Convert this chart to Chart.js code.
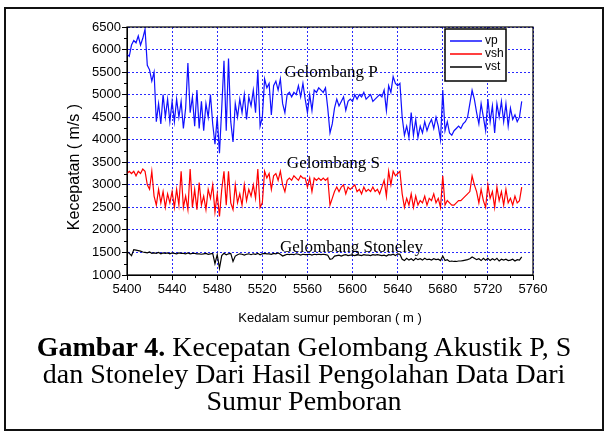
<!DOCTYPE html>
<html>
<head>
<meta charset="utf-8">
<script src="https://cdn.jsdelivr.net/npm/chart.js@4.4.0/dist/chart.umd.min.js"></script>
<style>
  body { margin: 0; background: #fff; }
  #frame { position: absolute; left: 4px; top: 7px; width: 596px; height: 420px; border: 2px solid #111; }
  #wrap { position: absolute; left: 0; top: 0; width: 608px; height: 434px; }
  #caption { position: absolute; left: 0; top: 333px; width: 608px; text-align: center;
    font-family: "Liberation Serif", "Times New Roman", serif; font-size: 28px; line-height: 27px; color: #000; }
</style>
</head>
<body>
<div id="frame"></div>
<div id="wrap"><canvas id="myChart" width="608" height="434"></canvas></div>
<div id="caption"><b>Gambar 4.</b> Kecepatan Gelombang Akustik P, S<br>dan Stoneley Dari Hasil Pengolahan Data Dari<br>Sumur Pemboran</div>
<script>
// depth (m), every 2 m from 5400 to 5750
var depthStart = 5400, depthStep = 2;

var vp = [
  5900, 5850, 6100, 6200, 6150, 6300, 6100, 6250, 6450, 5650,
  5550, 5300, 5500, 4400, 4800, 4350, 5000, 4500, 4900, 4400,
  4850, 4400, 4900, 4500, 4850, 4250, 4700, 5700, 4600, 4950,
  4300, 5100, 4250, 4850, 4200, 4800, 4500, 5000, 4350, 3900,
  4500, 3700, 4700, 5750, 4200, 5800, 4400, 3950, 4800, 4500,
  4900, 4600, 5000, 4450, 4950, 4750, 5100, 4600, 5550, 4300,
  4500, 5350, 5150, 5250, 4550, 5200, 5300, 5100, 5350, 4800,
  4600, 5000, 5050, 4950, 5050, 5000, 5200, 4950, 5250, 4900,
  4600, 5000, 4650, 5100, 5050, 5150, 5100, 5050, 5150, 4700,
  4150, 4350, 4700, 4900, 4750, 4850, 4950, 4650, 4850, 4900,
  4850, 5000, 4900, 5000, 4950, 5050, 4900, 4950, 5000, 4850,
  4900, 4950, 5000, 4950, 5100, 4650, 5200, 5050, 5400, 5250,
  5200, 5250, 4500, 4100, 4300, 4050, 4600, 4100, 4450, 4050,
  4300, 4150, 4400, 4200, 4350, 4450, 4250, 4500, 4300, 4000,
  5100, 4200, 4400, 4150, 4100, 4200, 4250, 4300, 4250, 4350,
  4400, 4500, 4800, 5100, 4900, 4600, 4350, 4800, 4500, 4200,
  4900, 4400, 4750, 4150, 4800, 4500, 4850, 4400, 4800, 4300,
  4700, 4450, 4550, 4400, 4500, 4850
];

var vsh = [
  3250, 3300, 3250, 3300, 3200, 3300, 3250, 3350, 3300, 3000,
  2900, 3300, 2750, 2550, 2900, 2600, 2850, 2500, 2800, 2600,
  2850, 2500, 2900, 2550, 3300, 2500, 2750, 2450, 3350, 2500,
  2900, 2450, 3050, 2550, 2750, 2450, 2900, 2700, 3000, 2400,
  2800, 2300, 2900, 3300, 2550, 3300, 2600, 2450, 3000, 2600,
  2800, 2550, 3000, 2650, 2900, 2750, 3000, 2700, 3350, 2500,
  2600, 3300, 3150, 3250, 2900, 3200, 3250, 3100, 3300, 3000,
  2850, 3100, 3150, 3100, 3200, 3150, 3100, 3200, 3150, 3150,
  2950, 3150, 2850, 3150, 3100, 3150, 3100, 3150, 3100, 3150,
  2550, 2700, 2850, 2950, 2850, 2950, 3000, 2800, 2950, 2900,
  2950, 3000, 2850, 2900, 2800, 2950, 2850, 2900, 2850, 2950,
  2850, 2900, 2800, 2950, 3100, 2750, 3300, 3000, 3300, 3200,
  3250, 3300, 2800, 2500, 2700, 2550, 2800, 2500, 2750, 2550,
  2650, 2600, 2750, 2550, 2700, 2650, 2800, 2600, 2700, 2500,
  3200, 2550, 2650, 2600, 2550, 2550, 2600, 2650, 2650, 2700,
  2750, 2800, 2850, 3200, 3000, 2850, 2600, 2900, 2650, 2500,
  3000, 2700, 2850, 2500, 2950, 2650, 2850, 2550, 2900, 2600,
  2700, 2550, 2750, 2600, 2650, 2950
];

var vst = [
  1520, 1480, 1430, 1560, 1550, 1540, 1530, 1510, 1500, 1490,
  1510, 1480, 1490, 1480, 1500, 1470, 1490, 1480, 1490, 1470,
  1490, 1480, 1470, 1490, 1480, 1480, 1470, 1490, 1470, 1480,
  1480, 1470, 1470, 1460, 1470, 1480, 1460, 1470, 1480, 1250,
  1450, 1150, 1430, 1480, 1450, 1470, 1480, 1300, 1420, 1450,
  1470, 1460, 1440, 1460, 1470, 1450, 1470, 1460, 1480, 1450,
  1470, 1480, 1470, 1470, 1460, 1480, 1470, 1490, 1460, 1420,
  1440, 1460, 1450, 1460, 1450, 1470, 1460, 1440, 1460, 1450,
  1450, 1460, 1440, 1460, 1450, 1460, 1450, 1460, 1450, 1440,
  1350, 1360, 1420, 1430, 1440, 1420, 1440, 1450, 1430, 1440,
  1440, 1430, 1450, 1440, 1430, 1450, 1440, 1440, 1430, 1450,
  1440, 1450, 1440, 1430, 1440, 1420, 1450, 1440, 1460, 1430,
  1470, 1460, 1350, 1320, 1370, 1330, 1360, 1320, 1370, 1340,
  1360, 1330, 1370, 1340, 1350, 1330, 1360, 1340, 1350, 1320,
  1420, 1320, 1340, 1300, 1310, 1300, 1300, 1310, 1310, 1320,
  1330, 1340, 1360, 1400, 1370, 1340, 1360, 1320, 1370, 1330,
  1370, 1320, 1360, 1330, 1370, 1310, 1350, 1330, 1350, 1320,
  1330, 1350, 1310, 1340, 1330, 1400
];

var seriesNames = ['vp', 'vsh', 'vst'];
var seriesColors = ['#1010ff', '#ff0000', '#000000'];

// text labels in the plot: [depth, velocity, text]
var notes = [
  [5581, 5480, 'Gelombang P'],
  [5583, 3480, 'Gelombang S'],
  [5599, 1620, 'Gelombang Stoneley']
];

var yTitle = 'Kecepatan ( m/s )';

function toPoints(arr) {
  return arr.map(function (v, i) { return { x: depthStart + i * depthStep, y: v }; });
}

var sans = "'Liberation Sans', Arial, sans-serif";
var serif = "'Liberation Serif', 'Times New Roman', serif";

var extras = {
  id: 'extras',
  afterDraw: function (chart) {
    var c = chart.ctx, a = chart.chartArea;
    var xs = chart.scales.x, ys = chart.scales.y;
    c.save();
    // minor ticks
    c.strokeStyle = '#000';
    c.lineWidth = 1;
    c.beginPath();
    for (var d = 5420; d < 5760; d += 40) {
      var px = Math.round(xs.getPixelForValue(d)) + 0.5;
      c.moveTo(px, a.bottom); c.lineTo(px, a.bottom + 3);
    }
    for (var v = 1250; v < 6500; v += 500) {
      var py = Math.round(ys.getPixelForValue(v)) + 0.5;
      c.moveTo(a.left, py); c.lineTo(a.left - 3, py);
    }
    c.stroke();
    // frame
    c.lineWidth = 1.2;
    c.strokeRect(a.left, a.top, a.right - a.left, a.bottom - a.top);
    // y title, sits a bit below the axis centre like the original
    c.fillStyle = '#000';
    c.font = '16px ' + sans;
    c.textAlign = 'center';
    c.textBaseline = 'middle';
    c.save();
    c.translate(75, 167);
    c.rotate(-Math.PI / 2);
    c.fillText(yTitle, 0, 0);
    c.restore();
    // notes
    c.font = '17px ' + serif;
    notes.forEach(function (n) {
      c.fillText(n[2], xs.getPixelForValue(n[0]), ys.getPixelForValue(n[1]));
    });
    // legend box
    var bx = a.right - 88, by = a.top + 2, bw = 61, bh = 52;
    c.fillStyle = '#fff';
    c.fillRect(bx, by, bw, bh);
    c.lineWidth = 1.5;
    c.strokeRect(bx, by, bw, bh);
    c.font = '12px ' + sans;
    c.textAlign = 'left';
    chart.data.datasets.forEach(function (ds, i) {
      var ly = by + 12 + i * 13;
      c.strokeStyle = ds.borderColor;
      c.lineWidth = 1.5;
      c.beginPath(); c.moveTo(bx + 5, ly); c.lineTo(bx + 37, ly); c.stroke();
      c.fillStyle = '#000';
      c.fillText(ds.label, bx + 40, ly);
    });
    c.restore();
  }
};

function plain(value) { return String(value); }

var ctx = document.getElementById('myChart').getContext('2d');
var myChart = new Chart(ctx, {
  type: 'line',
  data: {
    datasets: [vp, vsh, vst].map(function (arr, i) {
      return {
        label: seriesNames[i],
        data: toPoints(arr),
        borderColor: seriesColors[i],
        borderWidth: 1.2,
        pointRadius: 0,
        tension: 0
      };
    })
  },
  options: {
    responsive: false,
    animation: false,
    layout: { padding: { left: 62, right: 75, top: 27, bottom: 104 } },
    plugins: { legend: { display: false }, tooltip: { enabled: false } },
    scales: {
      x: {
        type: 'linear',
        min: 5400, max: 5760,
        ticks: { stepSize: 40, color: '#000', padding: 2, maxRotation: 0, callback: plain, font: { family: sans, size: 13 } },
        grid: { color: '#2a2aff', borderDash: [2, 2], tickColor: '#000', tickLength: 5 },
        border: { color: '#000', dash: [2, 2] },
        title: { display: true, text: 'Kedalam sumur pemboran ( m )', color: '#000', font: { family: sans, size: 13 } },
        afterFit: function (s) { s.height = 55; }
      },
      y: {
        min: 1000, max: 6500,
        ticks: { stepSize: 500, color: '#000', padding: 1, callback: plain, font: { family: sans, size: 13 } },
        grid: { color: '#2a2aff', borderDash: [2, 2], tickColor: '#000', tickLength: 5 },
        border: { color: '#000', dash: [2, 2] },
        title: { display: false },
        afterFit: function (s) { s.width = 65; }
      }
    }
  },
  plugins: [extras]
});
</script>
</body>
</html>
